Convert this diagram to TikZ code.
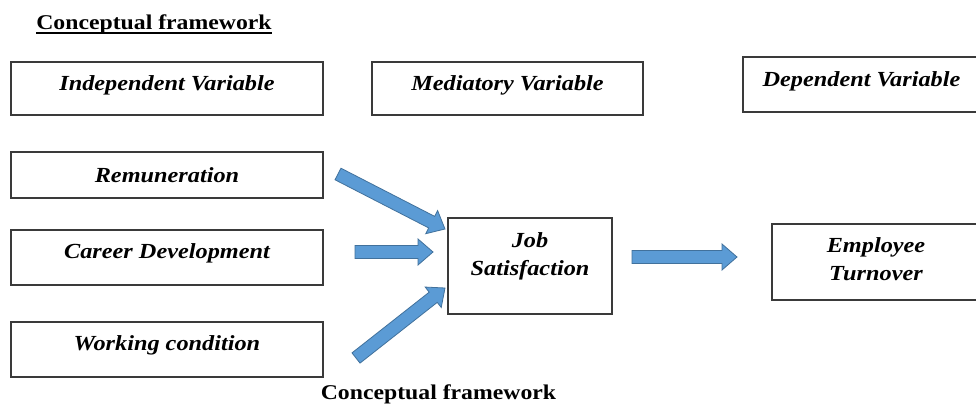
\documentclass[tikz,border=0pt]{standalone}
\usepackage{fontspec}
\setmainfont{Liberation Serif}[FakeStretch=1.13]
\usetikzlibrary{calc}
\definecolor{arrfill}{HTML}{5B9BD5}
\definecolor{arrline}{HTML}{41719C}
\definecolor{boxline}{HTML}{3A3A3A}
\tikzset{
  box/.style={draw=boxline, line width=1.2pt, inner sep=0pt, align=center,
    font=\fontsize{21.5}{28}\selectfont\bfseries\itshape},
  heading/.style={font=\fontsize{21}{25}\selectfont\bfseries, inner sep=0pt},
  blockarrow/.style={draw=arrline, fill=arrfill, line width=0.8pt, line join=miter}
}
% block arrow from #1 to #2, head base #3
\newcommand\blockarr[3]{%
  \coordinate (#3) at ($(#2)!15pt!(#1)$);
  \draw[blockarrow] ($(#1)!6.5pt!90:(#2)$) -- ($(#3)!6.5pt!90:(#2)$)
    -- ($(#3)!13pt!90:(#2)$) -- (#2) -- ($(#3)!13pt!-90:(#2)$)
    -- ($(#3)!6.5pt!-90:(#2)$) -- ($(#1)!6.5pt!-90:(#2)$) -- cycle;}
\begin{document}
\begin{tikzpicture}[x=1pt,y=-1pt]
\clip (0,0) rectangle (976,406);
\fill[white] (0,0) rectangle (976,406);

\node[heading] (title) at (154,24) {Conceptual framework};
\draw[line width=1.8pt] ([yshift=-3.5pt]title.base west) -- ([yshift=-3.5pt]title.base east);

\node[box, minimum width=312pt, minimum height=53pt, text depth=10pt] (iv) at (167,88.5) {Independent Variable};
\node[box, minimum width=271pt, minimum height=53pt, text depth=11pt] (mv) at (507.5,88.5) {Mediatory Variable};
\node[box, minimum width=237pt, minimum height=55pt, text depth=10pt] (dv) at (861.5,84.5) {Dependent Variable};

\node[box, minimum width=312pt, minimum height=46pt] (rem) at (167,175) {Remuneration};
\node[box, minimum width=312pt, minimum height=55pt, text depth=12pt] (cd) at (167,257.5) {Career Development};
\node[box, minimum width=312pt, minimum height=55pt, text depth=12pt] (wc) at (167,349.5) {Working condition};

\node[box, minimum width=164pt, minimum height=96pt, text depth=24pt] (js) at (530,266) {Job\\Satisfaction};
\node[box, minimum width=208pt, minimum height=76pt, text depth=5pt] (et) at (876,262) {Employee\\Turnover};

\node[heading] (caption) at (438.5,394) {Conceptual framework};

\coordinate (a1s) at (338,174);
\coordinate (a1e) at (445,229);
\coordinate (a2s) at (355,252);
\coordinate (a2e) at (433,252);
\coordinate (a3s) at (356,358);
\coordinate (a3e) at (445,288);
\coordinate (a4s) at (632,257);
\coordinate (a4e) at (737,257);

\blockarr{a1s}{a1e}{a1h}
\blockarr{a2s}{a2e}{a2h}
\blockarr{a3s}{a3e}{a3h}
\blockarr{a4s}{a4e}{a4h}
\end{tikzpicture}
\end{document}
